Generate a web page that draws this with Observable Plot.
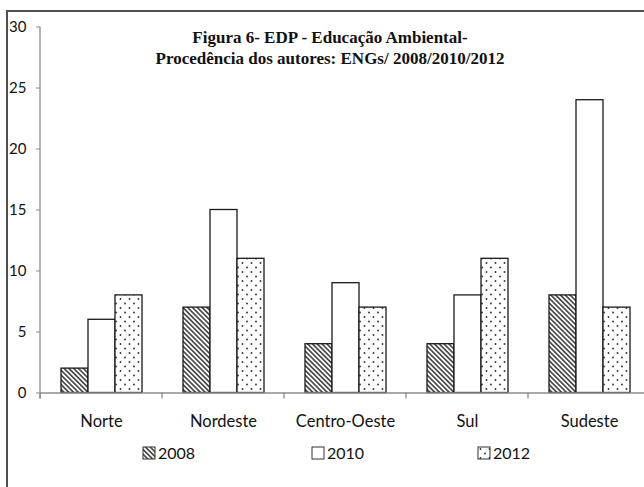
<!DOCTYPE html>
<html>
<head>
<meta charset="utf-8">
<script src="https://cdn.jsdelivr.net/npm/d3@7"></script>
<script src="https://cdn.jsdelivr.net/npm/@observablehq/plot@0.6"></script>
<style>
  html, body { margin: 0; padding: 0; background: #fff; overflow: hidden; }
  #wrap { position: relative; width: 644px; height: 487px; }
  #border { position: absolute; left: 6px; top: 10px; width: 800px; height: 800px;
            border: 2px solid #505050; pointer-events: none; }
</style>
</head>
<body>
<div id="wrap"><div id="border"></div></div>
<script>
// Regions and the number of authors per year
const regions = ["Norte", "Nordeste", "Centro-Oeste", "Sul", "Sudeste"];
const years = ["2008", "2010", "2012"];
const v2008 = [2, 7, 4, 4, 8];
const v2010 = [6, 15, 9, 8, 24];
const v2012 = [8, 11, 7, 11, 7];
const yTicks = [0, 5, 10, 15, 20, 25, 30];
const titleLines = [
  "Figura 6- EDP - Educação Ambiental-",
  "Procedência dos autores: ENGs/ 2008/2010/2012"
];

const fills = { "2008": "url(#hatch)", "2010": "white", "2012": "url(#dots)" };
const series = { "2008": v2008, "2010": v2010, "2012": v2012 };
const rows = regions.flatMap((r, i) => years.map(y => ({ region: r, year: y, value: series[y][i] })));

const barsFor = (y) => Plot.barY(rows.filter(d => d.year === y), {
  fx: "region", x: "year", y: "value",
  fill: fills[y], stroke: "#1a1a1a", strokeWidth: 1.3
});

const chart = Plot.plot({
  width: 644, height: 487,
  marginLeft: 39, marginRight: -6, marginTop: 26.5, marginBottom: 94.5,
  style: { fontFamily: "Lato, sans-serif", fontSize: "16px", color: "#111", background: "transparent" },
  fx: { domain: regions, padding: 0, label: null },
  x: { domain: years, paddingInner: 0, paddingOuter: 0.75, axis: null },
  y: { domain: [0, 30], label: null },
  marks: [
    barsFor("2008"), barsFor("2010"), barsFor("2012"),
    Plot.ruleY([0], { stroke: "#8c8c8c", strokeWidth: 1.5 }),
    Plot.axisY({ ticks: yTicks, tickSize: 4, tickPadding: 10, fontSize: 15, color: "#111", stroke: "#8c8c8c", label: null }),
    Plot.axisFx({ anchor: "bottom", tickSize: 0, tickPadding: 22, fontSize: 16.5, label: null })
  ]
});

document.getElementById("wrap").prepend(chart);

const svg = d3.select(chart);
const y = chart.scale("y");
const fx = chart.scale("fx");

// fill patterns for the bars and legend swatches
const defs = svg.insert("defs", ":first-child");
const hatch = defs.append("pattern").attr("id", "hatch")
  .attr("patternUnits", "userSpaceOnUse").attr("width", 3.4).attr("height", 3.4)
  .attr("patternTransform", "rotate(-45)");
hatch.append("rect").attr("width", 3.4).attr("height", 3.4).attr("fill", "white");
hatch.append("line").attr("x1", 1.7).attr("x2", 1.7).attr("y1", 0).attr("y2", 3.4)
  .attr("stroke", "#262626").attr("stroke-width", 1.4);
const dots = defs.append("pattern").attr("id", "dots")
  .attr("patternUnits", "userSpaceOnUse").attr("width", 9).attr("height", 9);
dots.append("rect").attr("width", 9).attr("height", 9).attr("fill", "white");
dots.append("circle").attr("cx", 2.5).attr("cy", 2).attr("r", 0.95).attr("fill", "#333");
dots.append("circle").attr("cx", 7).attr("cy", 6.5).attr("r", 0.95).attr("fill", "#333");

// value axis line and category boundary ticks
const x0 = fx.apply(regions[0]);
const xEnd = fx.apply(regions[regions.length - 1]) + fx.bandwidth;
const axes = svg.append("g").attr("stroke", "#8c8c8c").attr("stroke-width", 1.3);
axes.append("line").attr("x1", x0).attr("x2", x0).attr("y1", y.apply(30)).attr("y2", y.apply(0) + 6);
regions.map(r => fx.apply(r)).concat([xEnd]).forEach(px => {
  axes.append("line").attr("x1", px).attr("x2", px).attr("y1", y.apply(0)).attr("y2", y.apply(0) + 6);
});

// title
const title = svg.append("text").attr("text-anchor", "middle")
  .attr("font-family", "'Liberation Serif', serif").attr("font-weight", "bold")
  .attr("font-size", 17).attr("fill", "#111");
titleLines.forEach((t, i) => title.append("tspan").attr("x", 330).attr("y", 43 + i * 21).text(t));

// legend
const legendX = [143, 312, 478];
const legend = svg.append("g").attr("font-family", "Lato, sans-serif").attr("font-size", 16)
  .attr("fill", "#111").attr("text-anchor", "start");
years.forEach((yr, i) => {
  const g = legend.append("g").attr("transform", `translate(${legendX[i]},447)`);
  g.append("rect").attr("width", 12).attr("height", 12).attr("fill", fills[yr])
    .attr("stroke", "#333").attr("stroke-width", 1);
  g.append("text").attr("x", 15).attr("y", 12).text(yr);
});
</script>
</body>
</html>
